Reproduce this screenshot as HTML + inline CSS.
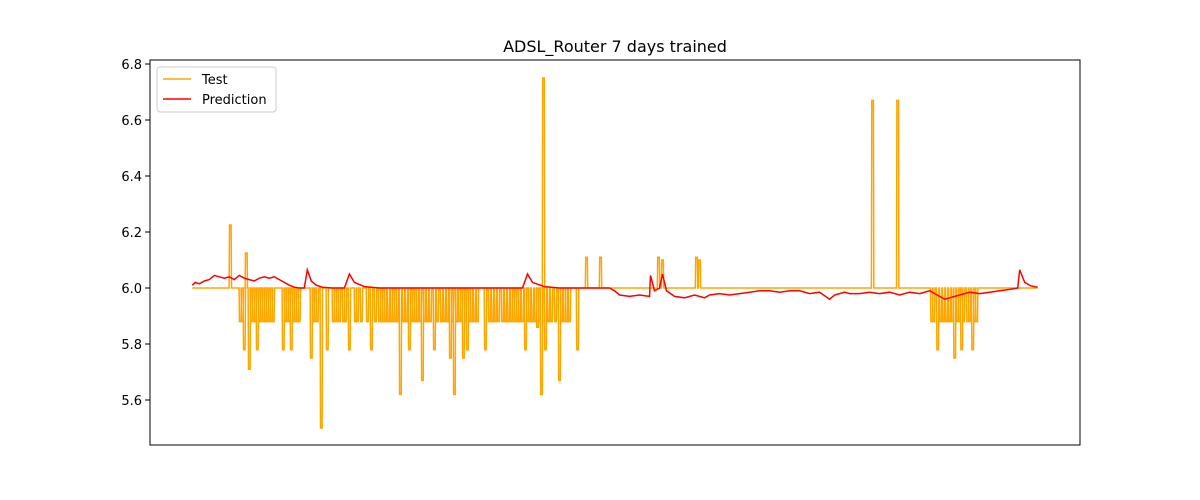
<!DOCTYPE html>
<html><head><meta charset="utf-8"><style>
body{margin:0;background:#fff;}
svg{display:block;font-family:"DejaVu Sans","Liberation Sans",sans-serif;}
</style></head><body>
<svg id="chart" width="1200" height="500">
<rect x="0" y="0" width="1200" height="500" fill="#fff"/>
<text x="615" y="52" text-anchor="middle" font-size="16" fill="#000">ADSL_Router 7 days trained</text>
<g id="yaxis"></g>
<g id="plot"></g>
<rect x="150" y="60" width="930" height="385" fill="none" stroke="#000" stroke-width="1"/>
<g>
<rect x="157" y="67" width="119" height="45" rx="3" fill="#fff" fill-opacity="0.8" stroke="#ccc"/>
<line x1="163" y1="79" x2="191" y2="79" stroke="orange" stroke-width="1.5"/>
<text x="202" y="84" font-size="13">Test</text>
<line x1="163" y1="99" x2="191" y2="99" stroke="red" stroke-width="1.5"/>
<text x="202" y="104" font-size="13">Prediction</text>
</g>
</svg>
<script>
const yTicks=[5.6,5.8,6.0,6.2,6.4,6.6,6.8];
const baseline=6.0;
const upT=[38,54,351,394,408,466,470,504,507,680,705];
const upV=[6.225,6.125,6.75,6.11,6.11,6.11,6.10,6.11,6.10,6.67,6.67];
const downT=[48,50,52,57,59,61,63,65,67,69,
71,73,75,77,79,81,91,93,95,97,
99,101,103,105,107,119,121,123,125,129,
135,141,143,145,147,151,153,157,163,165,
169,175,179,183,187,189,191,193,196,199,
201,203,205,208,211,214,217,219,221,223,
225,228,230,232,235,238,242,245,249,252,
255,258,260,262,264,267,269,271,273,275,
277,279,282,285,293,297,300,303,306,310,
313,316,319,321,323,325,327,330,333,335,
337,340,343,345,347,349,353,356,359,363,
367,369,372,374,377,385,
739,741,745,748,751,754,757,760,762,765,
767,769,771,775,777,780,782,784];
const downV=[5.88,5.88,5.78,5.71,5.88,5.88,5.88,5.78,5.88,5.88,
5.88,5.88,5.88,5.88,5.88,5.88,5.78,5.88,5.88,5.88,
5.78,5.88,5.88,5.88,5.88,5.75,5.88,5.88,5.88,5.50,
5.78,5.88,5.88,5.88,5.88,5.88,5.88,5.78,5.88,5.88,
5.88,5.88,5.78,5.88,5.88,5.88,5.88,5.88,5.88,5.88,
5.88,5.88,5.88,5.62,5.88,5.88,5.78,5.88,5.88,5.88,
5.88,5.88,5.67,5.88,5.88,5.88,5.78,5.88,5.88,5.88,
5.88,5.75,5.88,5.62,5.88,5.88,5.88,5.75,5.88,5.78,
5.88,5.88,5.88,5.88,5.78,5.88,5.88,5.88,5.88,5.88,
5.88,5.88,5.88,5.88,5.88,5.88,5.88,5.88,5.78,5.88,
5.88,5.88,5.88,5.86,5.88,5.62,5.78,5.88,5.88,5.88,
5.67,5.88,5.88,5.88,5.88,5.78,
5.88,5.88,5.78,5.88,5.88,5.88,5.88,5.88,5.75,5.88,
5.88,5.78,5.88,5.88,5.88,5.78,5.88,5.88];
const predT=[0,3,7,12,17,22,27,32,37,42,47,52,57,62,67,72,77,82,87,92,97,102,107,112,115,119,124,130,140,152,157,162,172,187,250,330,335,340,352,367,417,422,427,437,447,457,458,462,467,470,474,482,492,502,507,512,517,527,537,547,557,567,577,587,597,607,617,627,637,642,647,652,657,667,677,687,697,707,717,727,737,747,752,757,762,767,772,777,787,797,807,817,825,827,832,838,845];
const predV=[6.01,6.02,6.015,6.025,6.03,6.045,6.04,6.035,6.04,6.03,6.045,6.035,6.03,6.025,6.035,6.04,6.035,6.04,6.03,6.02,6.01,6.003,6.0,6.0,6.065,6.025,6.01,6.003,6.0,6.0,6.05,6.02,6.005,6.0,6.0,6.0,6.05,6.02,6.005,6.0,6.0,5.99,5.975,5.97,5.975,5.97,6.045,5.99,6.0,6.05,5.99,5.97,5.965,5.975,5.97,5.965,5.975,5.98,5.975,5.98,5.985,5.99,5.99,5.985,5.99,5.99,5.98,5.985,5.96,5.975,5.98,5.985,5.98,5.98,5.985,5.98,5.985,5.975,5.985,5.98,5.99,5.97,5.96,5.965,5.97,5.975,5.98,5.985,5.98,5.985,5.99,5.995,6.0,6.065,6.02,6.008,6.003];
const tMin=0,tMax=845;
const X0=150,X1=1080,Y0=445,Y1=60,vMin=5.4393,vMax=6.8143;
const pad=(tMax-tMin)*0.05;
function xs(t){return X0+(t-tMin+pad)/(tMax-tMin+2*pad)*(X1-X0);}
function ys(v){return Y0-(v-vMin)/(vMax-vMin)*(Y0-Y1);}
const NS="http://www.w3.org/2000/svg";
const yax=document.getElementById('yaxis');
yTicks.forEach(v=>{
  const y=ys(v);
  const l=document.createElementNS(NS,'line');
  l.setAttribute('x1',145);l.setAttribute('x2',150);l.setAttribute('y1',y);l.setAttribute('y2',y);l.setAttribute('stroke','#000');
  
  
  yax.appendChild(l);
  const t=document.createElementNS(NS,'text');
  t.setAttribute('x',142);t.setAttribute('y',y+5);t.setAttribute('text-anchor','end');t.setAttribute('font-size','13');
  t.textContent=v.toFixed(1);
  
  
  yax.appendChild(t);
});
const plot=document.getElementById('plot');
const spikes=[];
upT.forEach((t,i)=>spikes.push([t,upV[i]]));
downT.forEach((t,i)=>spikes.push([t,downV[i]]));
spikes.sort((a,b)=>a[0]-b[0]);
let pts=[[tMin,baseline]];
spikes.forEach(s=>{pts.push([s[0]-1.2,baseline],[s[0]-0.8,s[1]],[s[0]+0.8,s[1]],[s[0]+1.2,baseline]);});
pts.push([tMax,baseline]);
const tp=document.createElementNS(NS,'polyline');
tp.setAttribute('points',pts.map(p=>xs(p[0]).toFixed(1)+','+ys(p[1]).toFixed(1)).join(' '));
tp.setAttribute('fill','none');tp.setAttribute('stroke','orange');tp.setAttribute('stroke-width','1.5');


plot.appendChild(tp);
const pp=document.createElementNS(NS,'polyline');
pp.setAttribute('points',predT.map((t,i)=>xs(t).toFixed(1)+','+ys(predV[i]).toFixed(1)).join(' '));
pp.setAttribute('fill','none');pp.setAttribute('stroke','red');pp.setAttribute('stroke-width','1.5');


plot.appendChild(pp);
</script>
</body></html>
